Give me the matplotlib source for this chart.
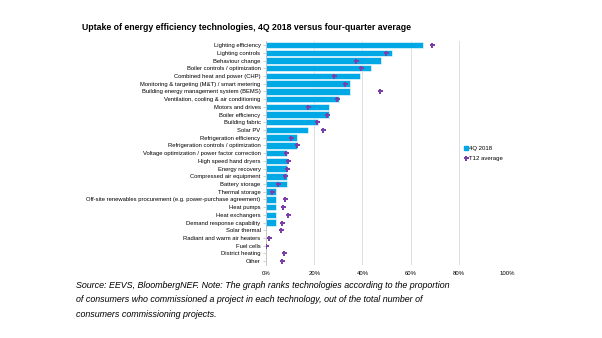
import numpy as np
import matplotlib
matplotlib.use("Agg")
from matplotlib import pyplot as plt
from matplotlib.lines import Line2D

plt.rcParams['font.family'] = ['Liberation Sans', 'DejaVu Sans']

technologies = [
    "Lighting efficiency", "Lighting controls", "Behaviour change",
    "Boiler controls / optimization", "Combined heat and power (CHP)",
    "Monitoring & targeting (M&T) / smart metering",
    "Building energy management system (BEMS)",
    "Ventilation, cooling & air conditioning", "Motors and drives",
    "Boiler efficiency", "Building fabric", "Solar PV",
    "Refrigeration efficiency", "Refrigeration controls / optimization",
    "Voltage optimization / power factor correction", "High speed hand dryers",
    "Energy recovery", "Compressed air equipment", "Battery storage",
    "Thermal storage",
    "Off-site renewables procurement (e.g. power-purchase agreement)",
    "Heat pumps", "Heat exchangers", "Demand response capability",
    "Solar thermal", "Radiant and warm air heaters", "Fuel cells",
    "District heating", "Other",
]
q4_2018 = [65.2, 52.2, 47.8, 43.5, 39.1, 34.8, 34.8, 30.4, 26.1, 26.1, 21.7,
           17.4, 13.0, 13.0, 8.7, 8.7, 8.7, 8.7, 8.7, 4.3, 4.3, 4.3, 4.3, 4.3,
           0, 0, 0, 0, 0]
t12_avg = [69.0, 49.9, 37.2, 39.3, 28.1, 32.8, 47.4, 29.3, 17.6, 25.3, 21.2,
           23.8, 10.4, 12.7, 8.3, 9.0, 8.7, 7.8, 4.8, 2.4, 8.0, 7.2, 9.0, 6.6,
           6.4, 1.1, 0.0, 7.3, 6.6]

title = "Uptake of energy efficiency technologies, 4Q 2018 versus four-quarter average"
note = ("Source: EEVS, BloombergNEF. Note: The graph ranks technologies according to the proportion\n"
        "of consumers who commissioned a project in each technology, out of the total number of\n"
        "consumers commissioning projects.")

bar_color = '#00A9E6'
avg_color = '#7B3FA9'

fig = plt.figure(figsize=(6.02, 3.38), dpi=100)
ax = fig.add_axes([0.442, 0.216, 0.400, 0.662])

y = np.arange(len(technologies))
ax.barh(y, q4_2018, height=0.84, color=bar_color, edgecolor='white',
        linewidth=0.4, zorder=2)
ax.plot(t12_avg, y, linestyle='none', marker='P', markersize=3.6,
        color=avg_color, markeredgewidth=0, zorder=3)

ax.set_ylim(len(technologies) - 0.5, -0.5)
ax.set_yticks(y)
ax.set_yticklabels(technologies, fontsize=4.2)
ax.set_xlim(0, 100)
ax.set_xticks(range(0, 101, 20))
ax.set_xticklabels([f"{v}%" for v in range(0, 101, 20)], fontsize=4.3)
ax.grid(axis='x', color='#D9D9D9', linewidth=0.6, zorder=0)
for side in ('top', 'right', 'bottom'):
    ax.spines[side].set_visible(False)
ax.spines['left'].set_color('#BFBFBF')
ax.spines['left'].set_linewidth(0.6)
ax.tick_params(axis='y', length=2, width=0.5, color='#BFBFBF', pad=2)
ax.tick_params(axis='x', length=0, pad=4)

# legend: square for the bars, filled plus for the average
handles = [
    Line2D([], [], linestyle='none', marker='s', markersize=3, color=bar_color),
    Line2D([], [], linestyle='none', marker='P', markersize=3.6, color=avg_color,
           markeredgewidth=0),
]
ax.legend(handles, ['4Q 2018', 'T12 average'], loc='upper left',
          bbox_to_anchor=(0.80, 0.555), frameon=False, fontsize=4.3,
          handlelength=0.5, handletextpad=0.3, labelspacing=0.7)

fig.text(0.136, 0.92, title, fontsize=6.3, fontweight='bold', ha='left', va='center')
fig.text(0.126, 0.168, note, fontsize=6.4, style='italic', ha='left', va='top',
         linespacing=1.75)

fig.savefig('out.png', dpi=100)
